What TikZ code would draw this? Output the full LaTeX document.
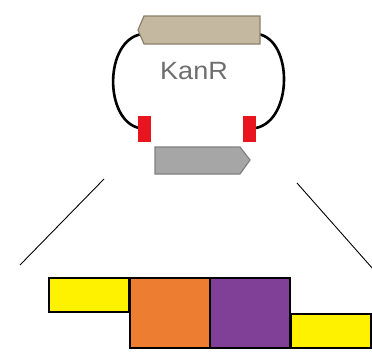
\documentclass[tikz,border=0pt]{standalone}
\usepackage{fontspec}
\setmainfont{Liberation Sans}
\usetikzlibrary{shapes.symbols}
\definecolor{tanfill}{RGB}{196,184,160}
\definecolor{tanline}{RGB}{140,128,108}
\definecolor{grayfill}{RGB}{166,166,166}
\definecolor{grayline}{RGB}{128,128,128}
\definecolor{redpart}{RGB}{232,20,30}
\definecolor{orangepart}{RGB}{237,125,49}
\definecolor{purplepart}{RGB}{128,64,152}
\definecolor{textgray}{RGB}{110,110,110}
\tikzset{
  partbox/.style={draw=black, line width=2pt, inner sep=0pt, anchor=north west},
  site/.style={fill=redpart, draw=none, inner sep=0pt, minimum width=13pt, minimum height=26pt, anchor=north west},
  backbone/.style={line width=2.6pt, black},
  zoomline/.style={line width=0.9pt, black}
}
\begin{document}
\begin{tikzpicture}[x=1pt,y=-1pt]
\useasboundingbox (0,0) rectangle (372,354);
% backbone curves
\coordinate (lstart) at (142,34);
\coordinate (lend) at (139,128);
\coordinate (rstart) at (258,34);
\coordinate (rend) at (256,128);
\draw[backbone] (lstart) .. controls (104,40) and (104,120) .. (lend);
\draw[backbone] (rstart) .. controls (293,40) and (293,120) .. (rend);
% tan arrow (KanR)
\draw[fill=tanfill, draw=tanline, line width=1.2pt]
  (138,30) coordinate (tantip) -- (144,16) -- (260,16) -- (260,44) -- (144,44) -- cycle;
\node[text=textgray, font=\fontsize{25}{25}\selectfont, xscale=1.08] (kanr) at (194,71) {KanR};
% red sites
\node[site] (redL) at (138,116) {};
\node[site] (redR) at (243,116) {};
% gray arrow
\draw[fill=grayfill, draw=grayline, line width=1.2pt]
  (155,147) -- (240,147) -- (250,160) coordinate (graytip) -- (240,174) -- (155,174) -- cycle;
% zoom lines
\coordinate (zl1) at (104,179);
\coordinate (zl2) at (20,265);
\coordinate (zr1) at (297,183);
\coordinate (zr2) at (373,269);
\draw[zoomline] (zl1) -- (zl2);
\draw[zoomline] (zr1) -- (zr2);
% parts
\node[partbox, fill=yellow, minimum width=80pt, minimum height=34pt] (y1) at (48,277) {};
\node[partbox, fill=orangepart, minimum width=80pt, minimum height=70pt] (or) at (129,277) {};
\node[partbox, fill=purplepart, minimum width=80pt, minimum height=70pt] (pu) at (209,277) {};
\node[partbox, fill=yellow, minimum width=80pt, minimum height=34pt] (y2) at (290,313) {};
\end{tikzpicture}
\end{document}
